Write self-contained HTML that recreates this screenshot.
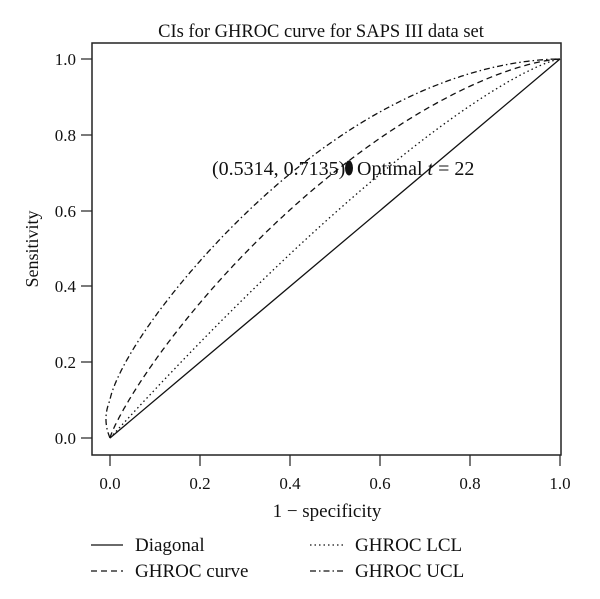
<!DOCTYPE html><html><head><style>body{margin:0;background:#fff}svg{display:block}text{font-family:"Liberation Serif",serif;fill:#111}</style></head><body>
<svg id="s" width="600" height="599" xmlns="http://www.w3.org/2000/svg">
<text x="321" y="37" font-size="18.5" text-anchor="middle">CIs for GHROC curve for SAPS III data set</text>
<rect x="92" y="43" width="469" height="412" fill="none" stroke="#222" stroke-width="1.5"/>
<g stroke="#222" stroke-width="1.2">
<line x1="81" y1="438" x2="92" y2="438"/><line x1="81" y1="362" x2="92" y2="362"/><line x1="81" y1="286" x2="92" y2="286"/><line x1="81" y1="211" x2="92" y2="211"/><line x1="81" y1="135" x2="92" y2="135"/><line x1="81" y1="59" x2="92" y2="59"/>
<line x1="110" y1="455" x2="110" y2="466"/><line x1="200" y1="455" x2="200" y2="466"/><line x1="290" y1="455" x2="290" y2="466"/><line x1="380" y1="455" x2="380" y2="466"/><line x1="470" y1="455" x2="470" y2="466"/><line x1="560" y1="455" x2="560" y2="466"/>
</g>
<g font-size="17" text-anchor="end"><text x="76" y="444">0.0</text><text x="76" y="368">0.2</text><text x="76" y="292">0.4</text><text x="76" y="217">0.6</text><text x="76" y="141">0.8</text><text x="76" y="65">1.0</text></g>
<g font-size="17" text-anchor="middle"><text x="110" y="489">0.0</text><text x="200" y="489">0.2</text><text x="290" y="489">0.4</text><text x="380" y="489">0.6</text><text x="470" y="489">0.8</text><text x="560" y="489">1.0</text></g>
<text x="327" y="517" font-size="19" text-anchor="middle">1 − specificity</text>
<text transform="translate(38,249) rotate(-90)" font-size="18" text-anchor="middle">Sensitivity</text>
<line x1="110" y1="438" x2="560" y2="59" stroke="#111" stroke-width="1.3"/>
<g id="c" fill="none" stroke="#111" stroke-width="1.3"></g>
<ellipse cx="349" cy="168" rx="4" ry="7.5" fill="#111"/>
<text x="212" y="175" font-size="20">(0.5314, 0.7135)</text>
<text x="357" y="175" font-size="20">Optimal <tspan font-style="italic">t</tspan> = 22</text>
<g stroke="#111" stroke-width="1.3">
<line x1="91" y1="545" x2="123" y2="545"/>
<line x1="91" y1="571" x2="123" y2="571" stroke-dasharray="6,4"/>
<line x1="310" y1="545" x2="343" y2="545" stroke-dasharray="1.5,3"/>
<line x1="310" y1="571" x2="343" y2="571" stroke-dasharray="6,3,1.5,3"/>
</g>
<g font-size="19"><text x="135" y="551">Diagonal</text><text x="135" y="577">GHROC curve</text><text x="355" y="551">GHROC LCL</text><text x="355" y="577">GHROC UCL</text></g>
</svg>
<script>
const X=x=>110+450*x,Y=y=>438-379*y;
function P(f,dash,pre){let d=pre||"";for(let i=0;i<=300;i++){let t=Math.pow(i/300,2);let [x,y]=f(t);d+=((i||pre)?"L":"M")+X(x).toFixed(1)+","+Y(y).toFixed(1);}
let p=document.createElementNS("http://www.w3.org/2000/svg","path");p.setAttribute("d",d);p.setAttribute("stroke-dasharray",dash);document.getElementById("c").appendChild(p);}
P(t=>[t,1-Math.pow(1-Math.pow(t,0.85),1.5)],"6,4");
P(t=>[t,1-Math.pow(1-t,1.3)],"1.5,3");
let pre="M"+X(0)+","+Y(0)+"Q"+X(-0.018)+","+Y(0.05)+" "+X(0)+","+Y(0.1);
P(t=>[t,1-Math.pow(1-Math.pow(t,0.8),1.8)+0.1*Math.pow(1-t,6)],"6,3,1.5,3",pre);
</script>
</body></html>
